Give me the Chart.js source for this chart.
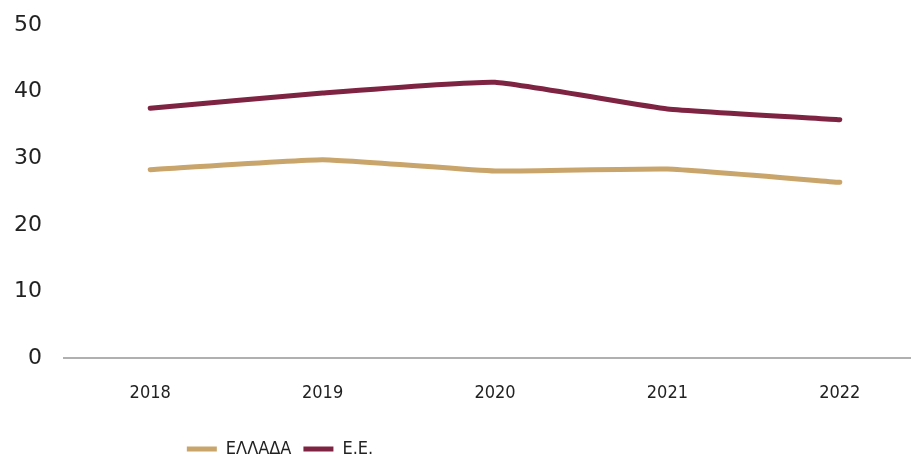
<!DOCTYPE html>
<html>
<head>
<meta charset="utf-8">
<script src="https://cdn.jsdelivr.net/npm/chart.js@4/dist/chart.umd.min.js"></script>
<style>
  html, body { margin: 0; padding: 0; background: #fff; overflow: hidden; }
  #wrap { width: 911px; height: 459px; overflow: hidden; }
</style>
</head>
<body>
<div id="wrap"><canvas id="chart" width="926" height="470"></canvas></div>
<script>
// Categories and series
const years = ["2018", "2019", "2020", "2021", "2022"];
const ellada = [28.3, 29.8, 28.1, 28.4, 26.4];
const ee = [37.5, 39.8, 41.4, 37.4, 35.8];
const yTicks = [0, 10, 20, 30, 40, 50];

const tan = "#C9A46B";
const maroon = "#7E2342";
const narrow = "'Liberation Sans Narrow', 'DejaVu Sans Condensed', sans-serif";

// shift the legend so it sits where the original had it
const legendShift = {
  id: "legendShift",
  afterLayout(chart) {
    const lg = chart.legend;
    if (lg) {
      lg.left = 0;
      lg.right = 560;
    }
  },
};

new Chart(document.getElementById("chart"), {
  type: "line",
  data: {
    labels: years,
    datasets: [
      {
        label: "ΕΛΛΑΔΑ",
        data: ellada,
        borderColor: tan,
        backgroundColor: tan,
        borderWidth: 5,
        pointRadius: 0,
        tension: 0.12,
        borderCapStyle: "round",
      },
      {
        label: "Ε.Ε.",
        data: ee,
        borderColor: maroon,
        backgroundColor: maroon,
        borderWidth: 5,
        pointRadius: 0,
        tension: 0.12,
        borderCapStyle: "round",
      },
    ],
  },
  options: {
    responsive: false,
    animation: false,
    layout: { padding: { left: 10, right: 0, top: 25, bottom: 2 } },
    scales: {
      x: {
        offset: true,
        grid: { display: false, drawTicks: false },
        border: { display: true, color: "#b0b0b0", width: 2 },
        ticks: {
          padding: 24,
          color: "#222",
          font: { family: narrow, size: 18 },
        },
      },
      y: {
        min: 0,
        max: 50,
        afterBuildTicks(scale) {
          scale.ticks = yTicks.map((v) => ({ value: v }));
        },
        afterFit(scale) {
          scale.width = 54;
          scale.paddingTop = 0;
          scale.paddingBottom = 0;
        },
        grid: { display: false, drawTicks: false },
        border: { display: false },
        ticks: {
          padding: 22,
          color: "#222",
          font: { family: "'DejaVu Sans', sans-serif", size: 22 },
        },
      },
    },
    plugins: {
      tooltip: { enabled: false },
      legend: {
        position: "bottom",
        labels: {
          usePointStyle: true,
          pointStyle: "line",
          pointStyleWidth: 30,
          padding: 12,
          color: "#222",
          font: { family: narrow, size: 18 },
        },
      },
    },
  },
  plugins: [legendShift],
});
</script>
</body>
</html>
